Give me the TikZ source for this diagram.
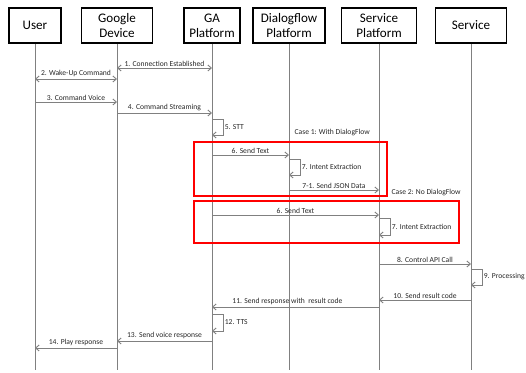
\documentclass[tikz,border=0pt]{standalone}
\usepackage{fontspec}
\setmainfont{Carlito}
\usetikzlibrary{arrows.meta}
\definecolor{linegray}{HTML}{808080}
\definecolor{textgray}{HTML}{262626}
\tikzset{
  actor/.style={draw, line width=1.3pt, align=center, inner sep=0pt, font=\fontsize{9.8}{11.5}\selectfont},
  life/.style={draw=linegray, line width=0.75pt},
  msg/.style={draw=linegray, line width=0.7pt, -{Straight Barb[length=2.6pt,width=4.5pt]}},
  bimsg/.style={msg, {Straight Barb[length=2.6pt,width=4.5pt]}-{Straight Barb[length=2.6pt,width=4.5pt]}},
  lbl/.style={font=\fontsize{5.7}{7}\selectfont, text=textgray, inner sep=1pt},
  casebox/.style={draw=red, line width=1.4pt}
}
\begin{document}
\begin{tikzpicture}[x=0.75pt,y=-0.75pt]
\useasboundingbox (0,0) rectangle (526,373);
% participants
\node[actor, minimum width=52*0.75pt, minimum height=35*0.75pt] (user) at (35,25.5) {User};
\node[actor, minimum width=71*0.75pt, minimum height=35*0.75pt] (gdev) at (117,25.5) {Google\\Device};
\node[actor, minimum width=56*0.75pt, minimum height=35*0.75pt] (ga) at (212,25.5) {GA\\Platform};
\node[actor, minimum width=72*0.75pt, minimum height=35*0.75pt] (df) at (289,25.5) {Dialogflow\\Platform};
\node[actor, minimum width=75*0.75pt, minimum height=35*0.75pt] (sp) at (379,25.5) {Service\\Platform};
\node[actor, minimum width=71*0.75pt, minimum height=35*0.75pt] (svc) at (471,25.5) {Service};
% lifelines
\foreach \p in {user,gdev,ga,df,sp,svc}
  \draw[life] (\p.south) -- (\p |- 0,370);
% case boxes
\node[casebox, minimum width=193*0.75pt, minimum height=54*0.75pt] (case1) at (290.5,169) {};
\node[casebox, minimum width=265*0.75pt, minimum height=42*0.75pt] (case2) at (326.5,222) {};
\node[lbl, anchor=west] (case1lbl) at (293,133) {Case 1: With DialogFlow};
\node[lbl, anchor=west] (case2lbl) at (390,193) {Case 2: No DialogFlow};
% messages
\draw[bimsg] (gdev |- 0,68) -- node[lbl, above] {1. Connection Established} (ga |- 0,68);
\draw[bimsg] (user |- 0,79) -- node[lbl, above] {2. Wake-Up Command} (gdev |- 0,79);
\draw[msg] (user |- 0,102) -- node[lbl, above] {3. Command Voice} (gdev |- 0,102);
\draw[msg] (gdev |- 0,113) -- node[lbl, above] {4. Command Streaming} (ga |- 0,113);
\draw[msg] (ga |- 0,119) -- ++(11,0) -- ++(0,16) node[lbl, right, pos=0.5] {5. STT} -- ++(-11,0);
\draw[msg] (ga |- 0,155) -- node[lbl, above] {6. Send Text} (df |- 0,155);
\draw[msg] (df |- 0,159) -- ++(11,0) -- ++(0,16) node[lbl, right, pos=0.5] {7. Intent Extraction} -- ++(-11,0);
\draw[msg] (df |- 0,190) -- node[lbl, above] {7-1. Send JSON Data} (sp |- 0,190);
\draw[msg] (ga |- 0,215) -- node[lbl, above] {6. Send Text} (sp |- 0,215);
\draw[msg] (sp |- 0,218) -- ++(11,0) -- ++(0,17) node[lbl, right, pos=0.5] {7. Intent Extraction} -- ++(-11,0);
\draw[msg] (sp |- 0,264) -- node[lbl, above] {8. Control API Call} (svc |- 0,264);
\draw[msg] (svc |- 0,269) -- ++(11,0) -- ++(0,16) node[lbl, right, pos=0.5] {9. Processing} -- ++(-11,0);
\draw[msg] (svc |- 0,300) -- node[lbl, above] {10. Send result code} (sp |- 0,300);
\draw[msg] (sp |- 0,307) -- node[lbl, above, xshift=-8*0.75pt] {11. Send response with \ result code} (ga |- 0,307);
\draw[msg] (ga |- 0,314) -- ++(11,0) -- ++(0,17) node[lbl, right, pos=0.5] {12. TTS} -- ++(-11,0);
\draw[msg] (ga |- 0,341) -- node[lbl, above] {13. Send voice response} (gdev |- 0,341);
\draw[msg] (gdev |- 0,348) -- node[lbl, above] {14. Play response} (user |- 0,348);
\end{tikzpicture}
\end{document}
